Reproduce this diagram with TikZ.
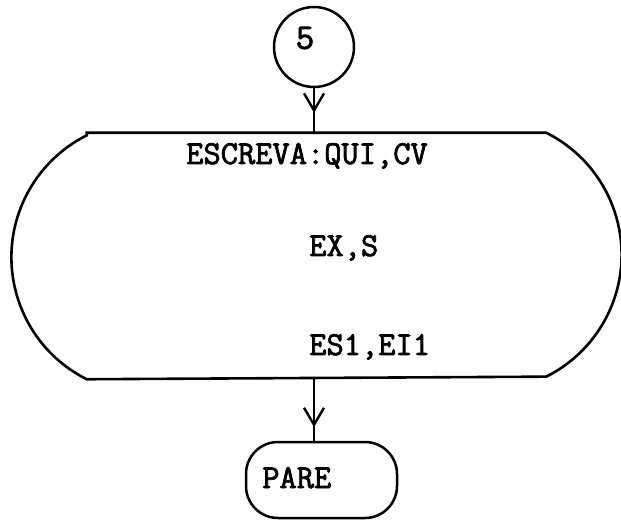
\documentclass[tikz,border=0pt]{standalone}
\usepackage{fontspec}
\setmonofont{Latin Modern Mono}[FakeBold=2.2]
\usetikzlibrary{arrows.meta,decorations.markings}
\begin{document}
\begin{tikzpicture}[x=1pt,y=1pt,
  every path/.style={line width=2.5pt},
  tw/.style={font=\fontsize{33.5}{40}\selectfont\ttfamily, inner sep=0pt},
  digit/.style={font=\fontsize{36}{42}\selectfont\ttfamily, inner sep=0pt},
  flowline/.style={draw, line width=2.4pt},
  barbat/.style={postaction={decorate}, decoration={markings,
     mark=at position #1 with {\arrow{Straight Barb[length=17pt,width=20pt]}}}}
]
\useasboundingbox (0,0) rectangle (621,525);
% connector circle
\node[draw, circle, minimum size=80pt, line width=2.5pt, inner sep=0pt] (c5) at (314,478) {};
\node[digit] (n5) at (305,487) {5};
% big display box
\node[minimum width=457pt, minimum height=244pt, inner sep=0pt] (box) at (316.5,269) {};
\draw[line width=2.6pt] (box.north west) -- (box.north east)
   arc[start angle=63.4, end angle=-63.4, radius=136.4]
   -- (box.south west)
   arc[start angle=243.4, end angle=116.6, radius=136.4] -- cycle;
\node[tw, anchor=base west] (t1) at (185,361) {ESCREVA:QUI,CV};
\node[tw, anchor=base west] (t2) at (308,269) {EX,S};
\node[tw, anchor=base west] (t3) at (308,170) {ES1,EI1};
% terminal
\node[draw, line width=2.5pt, rounded corners=32pt, minimum width=151pt, minimum height=76pt] (pare) at (321.5,45) {};
\node[tw, anchor=base west] (tp) at (261,37) {PARE};
% connectors
\draw[flowline, barbat=0.553] (c5.south) -- (c5.south |- box.north);
\draw[flowline, barbat=0.78] (c5.south |- box.south) -- (c5.south |- pare.north);
\end{tikzpicture}
\end{document}
